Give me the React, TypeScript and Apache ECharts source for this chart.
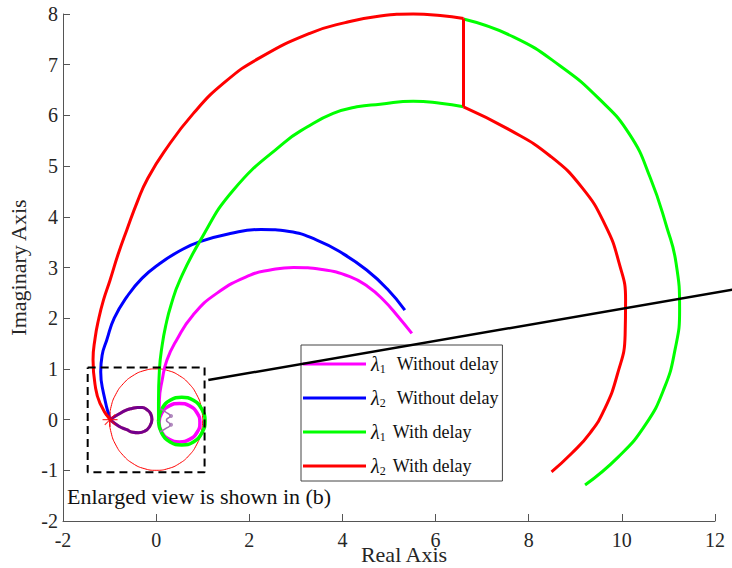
import React, { useEffect, useRef } from 'react';
import * as echarts from 'echarts';

// ---- data ----
const NAME_L1_WO = 'λ1 Without delay';
const NAME_L2_WO = 'λ2 Without delay';
const NAME_L1_W = 'λ1 With delay';
const NAME_L2_W = 'λ2 With delay';

const xTickMin = -2;
const xTickMax = 12;
const xTickStep = 2;
const yTickMin = -2;
const yTickMax = 8;
const yTickStep = 1;

// λ1 without delay (magenta)
const magentaArc = [
  [0.06, -0.06], [0.07, 0.39], [0.13, 0.78], [0.23, 1.17], [0.44, 1.57], [0.79, 2.06],
  [1.3, 2.49], [2.02, 2.85], [2.45, 2.95], [2.95, 3.0], [3.56, 2.96], [4.16, 2.82],
  [4.55, 2.62], [4.88, 2.36], [5.19, 2.04], [5.49, 1.7],
];
const magentaLoop = [
  [0.06, -0.06], [0.12, -0.25], [0.28, -0.39], [0.5, -0.44], [0.72, -0.39], [0.88, -0.25],
  [0.94, -0.06], [0.88, 0.13], [0.72, 0.27], [0.5, 0.32], [0.28, 0.27], [0.12, 0.13],
  [0.06, -0.06],
];

// λ2 without delay (blue)
const blueArc = [
  [-0.99, 0.0], [-1.13, 0.52], [-1.19, 0.94], [-1.16, 1.27], [-1.06, 1.57], [-0.9, 2.0],
  [-0.63, 2.42], [-0.3, 2.79], [0.08, 3.08], [0.51, 3.33], [0.94, 3.51], [1.59, 3.67],
  [2.25, 3.75], [2.86, 3.71], [3.45, 3.54], [4.0, 3.28], [4.52, 2.95], [4.96, 2.58],
  [5.34, 2.16],
];
const teardropLoop = [
  [-0.99, 0.0], [-0.8, -0.13], [-0.63, -0.2], [-0.5, -0.25], [-0.38, -0.26], [-0.25, -0.23],
  [-0.15, -0.15], [-0.09, 0.0], [-0.12, 0.12], [-0.19, 0.19], [-0.3, 0.24], [-0.4, 0.24],
  [-0.52, 0.22], [-0.63, 0.19], [-0.8, 0.11], [-0.99, 0.0],
];

// λ1 with delay (green)
const greenArc = [
  [0.05, -0.03], [0.05, 0.35], [0.07, 0.98], [0.13, 1.47], [0.21, 1.87], [0.32, 2.26],
  [0.51, 2.75], [0.94, 3.52], [1.66, 4.53], [2.73, 5.45], [3.24, 5.77], [3.8, 6.04],
  [4.31, 6.17], [4.81, 6.22], [5.52, 6.28], [6.1, 6.24], [6.6, 6.17],
];
const greenJump = [[6.6, 6.17], [6.6, 7.9]];
const greenOuter = [
  [6.6, 7.9], [7.67, 7.55], [8.67, 6.98], [9.53, 6.31], [10.17, 5.62], [10.61, 4.77],
  [10.97, 3.78], [11.16, 3.11], [11.24, 2.16], [11.14, 1.37], [10.91, 0.62],
  [10.5, -0.11], [9.92, -0.74], [9.21, -1.29],
];
const greenLoop = [
  [0.05, -0.03], [0.12, -0.265], [0.3, -0.44], [0.55, -0.5], [0.8, -0.44], [0.98, -0.265],
  [1.05, -0.03], [0.98, 0.205], [0.8, 0.38], [0.55, 0.44], [0.3, 0.38], [0.12, 0.205],
  [0.05, -0.03],
];

// λ2 with delay (red)
const redOuter = [
  [-0.99, 0.0], [-1.205, 0.32], [-1.31, 0.68], [-1.355, 1.18], [-1.31, 1.61], [-1.24, 1.96],
  [-1.13, 2.36], [-0.99, 2.75], [-0.82, 3.25], [-0.63, 3.74], [-0.39, 4.33], [-0.195, 4.73],
  [0.17, 5.28], [0.8, 6.04], [1.48, 6.66], [2.23, 7.14], [3.3, 7.62], [4.06, 7.83],
  [4.81, 7.96], [5.52, 8.0], [6.1, 7.97], [6.6, 7.91],
];
const redJump = [[6.6, 7.91], [6.6, 6.17]];
const redInner = [
  [6.6, 6.17], [7.6, 5.71], [8.46, 5.2], [9.15, 4.57], [9.64, 3.84], [9.94, 3.09],
  [10.08, 2.36], [10.07, 1.67], [9.9, 0.88], [9.62, 0.19], [9.32, -0.26], [8.93, -0.66],
  [8.49, -1.03],
];

// small curl near the origin and its two markers
const curl = [
  [0.08, 0.22], [0.22, 0.14], [0.3, 0.07], [0.22, -0.01], [0.3, -0.1], [0.22, -0.17], [0.08, -0.24],
];
const curlDots = [[0.32, 0.07], [0.32, -0.1]];

// critical point
const criticalPoint = [[-0.99, 0.0]];

// unit circle (15° steps)
const unitCircle = [
  [1, 0], [0.966, 0.259], [0.866, 0.5], [0.707, 0.707], [0.5, 0.866], [0.259, 0.966],
  [0, 1], [-0.259, 0.966], [-0.5, 0.866], [-0.707, 0.707], [-0.866, 0.5], [-0.966, 0.259],
  [-1, 0], [-0.966, -0.259], [-0.866, -0.5], [-0.707, -0.707], [-0.5, -0.866],
  [-0.259, -0.966], [0, -1], [0.259, -0.966], [0.5, -0.866], [0.707, -0.707],
  [0.866, -0.5], [0.966, -0.259], [1, 0],
];

// enlarged-view box and pointer line
const zoomBox = [[-1.47, 1.03], [1.04, 1.03], [1.04, -1.04], [-1.47, -1.04], [-1.47, 1.03]];
const pointerLine = [[1.12, 0.78], [12.37, 2.56]];

const MAGENTA = '#ff00ff';
const BLUE = '#0000ff';
const GREEN = '#00ff00';
const RED = '#ff0000';
const FONT = 'Liberation Serif';

function lineSeries(name: string | undefined, data: number[][], color: string, width: number, extra: any = {}) {
  return {
    type: 'line',
    name,
    data,
    symbol: 'none',
    showSymbol: false,
    smooth: 0.5,
    clip: false,
    silent: true,
    lineStyle: { color, width },
    itemStyle: { color },
    emphasis: { disabled: true },
    z: 2,
    ...extra,
  };
}

const enlargedText = {
  id: 'enlarged',
  type: 'text',
  left: 67,
  top: 485,
  style: { text: 'Enlarged view is shown in (b)', fontFamily: FONT, fontSize: 22, fill: '#111' },
  z: 20,
};

export default function App() {
  const ref = useRef<HTMLDivElement>(null);
  useEffect(() => {
    if (!ref.current) return;
    const chart = echarts.init(ref.current, null, { renderer: 'svg' });
    const option: any = {
      animation: false,
      backgroundColor: '#fff',
      grid: { left: 63, right: 17, top: 14, bottom: 47, containLabel: false, outerBoundsMode: 'none' },
      xAxis: {
        type: 'value',
        min: xTickMin,
        max: xTickMax,
        interval: xTickStep,
        name: 'Real Axis',
        nameLocation: 'middle',
        nameGap: 22,
        nameMoveOverlap: false,
        nameTextStyle: { fontFamily: FONT, fontSize: 22, color: '#262626', padding: [0, 0, 0, 30] },
        axisLine: { show: true, onZero: false, lineStyle: { color: '#555', width: 1 } },
        axisTick: { show: true, inside: true, length: 7, lineStyle: { color: '#555' } },
        axisLabel: { fontFamily: FONT, fontSize: 20, color: '#262626', margin: 9 },
        splitLine: { show: false },
      },
      yAxis: {
        type: 'value',
        min: yTickMin,
        max: yTickMax,
        interval: yTickStep,
        name: 'Imaginary Axis',
        nameLocation: 'middle',
        nameGap: 34,
        nameMoveOverlap: false,
        nameTextStyle: { fontFamily: FONT, fontSize: 22, color: '#262626' },
        axisLine: { show: true, onZero: false, lineStyle: { color: '#555', width: 1 } },
        axisTick: { show: true, inside: true, length: 7, lineStyle: { color: '#555' } },
        axisLabel: { fontFamily: FONT, fontSize: 20, color: '#262626', margin: 5, padding: [6, 0, 0, 0] },
        splitLine: { show: false },
      },
      legend: {
        data: [NAME_L1_WO, NAME_L2_WO, NAME_L1_W, NAME_L2_W],
        orient: 'vertical',
        left: 301,
        top: 345,
        icon: 'rect',
        itemWidth: 63,
        itemHeight: 3,
        itemGap: 13,
        padding: [9, 4, 4, 2],
        backgroundColor: '#fff',
        borderColor: '#444',
        borderWidth: 1,
        selectedMode: false,
        formatter: (name: string) => {
          const sub = name[1];
          const rest = name.slice(3);
          const gap = rest.startsWith('Without') ? 'g1' : 'g2';
          return `{l|λ}{s|${sub}}{${gap}|}{t|${rest}}`;
        },
        textStyle: {
          fontFamily: FONT,
          color: '#111',
          rich: {
            l: { fontFamily: FONT, fontStyle: 'italic', fontSize: 20, lineHeight: 22, color: '#111' },
            s: { fontFamily: FONT, fontSize: 12, lineHeight: 12, verticalAlign: 'bottom', color: '#111' },
            g1: { width: 11 },
            g2: { width: 7 },
            t: { fontFamily: FONT, fontSize: 18, lineHeight: 22, color: '#111' },
          },
        },
      },
      graphic: [enlargedText],
      series: [
        lineSeries(undefined, unitCircle, RED, 1),
        lineSeries(NAME_L1_WO, magentaArc, MAGENTA, 3),
        lineSeries(NAME_L1_WO, magentaLoop, MAGENTA, 3.5),
        lineSeries(NAME_L2_WO, blueArc, BLUE, 3),
        lineSeries(NAME_L1_W, greenArc, GREEN, 3),
        lineSeries(NAME_L1_W, greenJump, GREEN, 3, { smooth: false }),
        lineSeries(NAME_L1_W, greenOuter, GREEN, 3),
        lineSeries(NAME_L1_W, greenLoop, GREEN, 3.5),
        lineSeries(NAME_L2_W, redOuter, RED, 3),
        lineSeries(NAME_L2_W, redJump, RED, 3, { smooth: false }),
        lineSeries(NAME_L2_W, redInner, RED, 3),
        lineSeries(NAME_L2_W, teardropLoop, RED, 3),
        lineSeries(NAME_L2_WO, teardropLoop, BLUE, 3, { lineStyle: { color: BLUE, width: 3, opacity: 0.55 } }),
        lineSeries(undefined, curl, '#a070b0', 1.5, { smooth: 0.6 }),
        {
          type: 'scatter',
          data: curlDots,
          symbol: 'circle',
          symbolSize: 4,
          itemStyle: { color: '#a070b0' },
          silent: true,
          z: 3,
        },
        {
          type: 'scatter',
          data: criticalPoint,
          symbol: 'path://M10,0L10,20M0,10L20,10M3,3L17,17M3,17L17,3',
          symbolSize: 15,
          itemStyle: { color: 'none', borderColor: RED, borderWidth: 1.2 },
          silent: true,
          z: 6,
        },
        lineSeries(undefined, zoomBox, '#000', 2, { smooth: false, lineStyle: { color: '#000', width: 2, type: [8, 5] }, z: 5 }),
      ],
    };
    chart.setOption(option);
    // pointer line: positioned through the grid's own scales, runs to the figure edge
    const p0 = chart.convertToPixel({ gridIndex: 0 }, pointerLine[0]) as number[];
    const p1 = chart.convertToPixel({ gridIndex: 0 }, pointerLine[1]) as number[];
    chart.setOption({
      graphic: [
        enlargedText,
        {
          id: 'pointer',
          type: 'line',
          shape: { x1: p0[0], y1: p0[1], x2: p1[0], y2: p1[1] },
          style: { stroke: '#000', lineWidth: 2.5 },
          silent: true,
          z: 30,
        },
      ],
    });
    return () => chart.dispose();
  }, []);
  return (
    <div
      ref={ref}
      style={{ position: 'fixed', left: 0, top: 0, width: 732, height: 568, background: '#fff' }}
    />
  );
}
